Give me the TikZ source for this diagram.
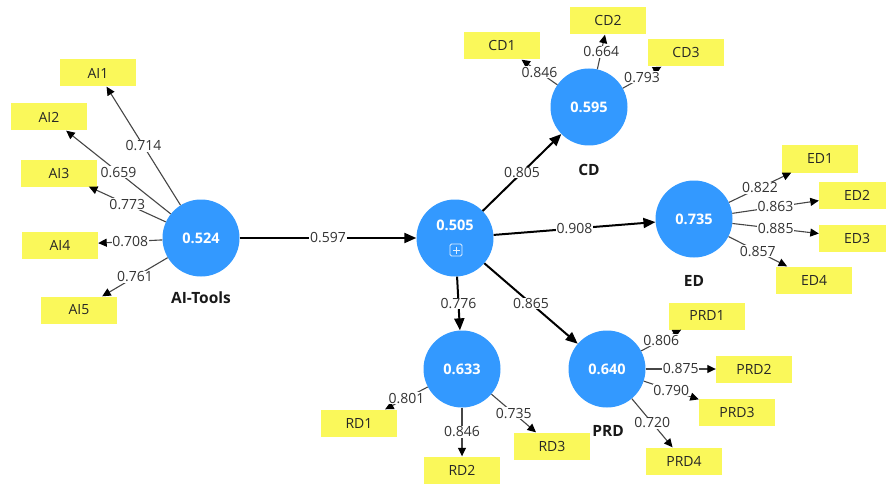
\documentclass[tikz,border=0pt]{standalone}
\usepackage{fontspec}
\setmainfont{Open Sans}
\usetikzlibrary{arrows.meta}
\definecolor{plsblue}{RGB}{51,153,255}
\definecolor{indyellow}{RGB}{250,248,90}
\definecolor{linegray}{RGB}{70,70,70}
\tikzset{
  latent/.style={circle, fill=plsblue, minimum size=77pt, inner sep=0pt,
    text=white, font=\fontsize{14.5}{16}\selectfont\bfseries},
  indicator/.style={rectangle, fill=indyellow, minimum width=76pt,
    minimum height=27pt, inner sep=0pt, font=\fontsize{14}{16}\selectfont, text=black!85},
  lvname/.style={font=\fontsize{15.5}{17}\selectfont\bfseries, text=black!90},
  lbl/.style={fill=white, inner sep=0.8pt, font=\fontsize{14}{16}\selectfont, text=black!80},
  loading/.style={draw=linegray, line width=1.1pt,
    -{Triangle[length=8.5pt,width=8pt,color=black]}},
  path coef/.style={draw=black, line width=2pt,
    -{Triangle[length=12pt,width=10pt]}},
}
\begin{document}
\begin{tikzpicture}[x=1pt, y=-1pt]
\useasboundingbox (0,0) rectangle (886,484);

% latent variables
\node[latent] (ai)  at (201,238) {0.524};
\node[latent] (mid) at (455,238) {};
\node[latent] (cd)  at (589,107) {0.595};
\node[latent] (ed)  at (694,219) {0.735};
\node[latent] (rd)  at (462,369) {0.633};
\node[latent] (prd) at (607,369) {0.640};
\node[latent, fill=none, minimum size=0pt] (midval) at (455,225) {0.505};
% collapse icon of the higher-order construct
\draw[white, opacity=0.85, line width=0.9pt, rounded corners=1.5pt]
  (450,244) rectangle (462,256);
\draw[white, opacity=0.85, line width=0.9pt] (456,246.5) -- (456,253.5)
  (452.5,250) -- (459.5,250);

% construct names
\node[lvname] (ainame)  at (201,298) {AI-Tools};
\node[lvname] (cdname)  at (589,170) {CD};
\node[lvname] (edname)  at (694,281) {ED};
\node[lvname] (prdname) at (608,431) {PRD};

% indicators
\node[indicator] (ai1) at (98,73)  {AI1};
\node[indicator] (ai2) at (49,117) {AI2};
\node[indicator] (ai3) at (59,173) {AI3};
\node[indicator] (ai4) at (60,245) {AI4};
\node[indicator] (ai5) at (79,310) {AI5};

\node[indicator] (cd1) at (502,46) {CD1};
\node[indicator] (cd2) at (608,21) {CD2};
\node[indicator] (cd3) at (686,53) {CD3};

\node[indicator] (ed1) at (820,159) {ED1};
\node[indicator] (ed2) at (857,195) {ED2};
\node[indicator] (ed3) at (857,238) {ED3};
\node[indicator] (ed4) at (814,280) {ED4};

\node[indicator] (rd1) at (359,423) {RD1};
\node[indicator] (rd2) at (462,470) {RD2};
\node[indicator] (rd3) at (552,446) {RD3};

\node[indicator] (prd1) at (707,316) {PRD1};
\node[indicator] (prd2) at (754,369) {PRD2};
\node[indicator] (prd3) at (737,412) {PRD3};
\node[indicator] (prd4) at (684,461) {PRD4};

% outer loadings
\draw[loading] (ai) -- node[lbl] {0.714} (ai1);
\draw[loading] (ai) -- node[lbl] {0.659} (ai2);
\draw[loading] (ai) -- node[lbl] {0.773} (ai3);
\draw[loading] (ai) -- node[lbl] {0.708} (ai4);
\draw[loading] (ai) -- node[lbl] {0.761} (ai5);

\draw[loading] (cd) -- node[lbl] {0.846} (cd1);
\draw[loading] (cd) -- node[lbl] {0.664} (cd2);
\draw[loading] (cd) -- node[lbl] {0.793} (cd3);

\draw[loading] (ed) -- node[lbl] {0.822} (ed1);
\draw[loading] (ed) -- node[lbl] {0.863} (ed2);
\draw[loading] (ed) -- node[lbl] {0.885} (ed3);
\draw[loading] (ed) -- node[lbl] {0.857} (ed4);

\draw[loading] (rd) -- node[lbl] {0.801} (rd1);
\draw[loading] (rd) -- node[lbl] {0.846} (rd2);
\draw[loading] (rd) -- node[lbl] {0.735} (rd3);

\draw[loading] (prd) -- node[lbl] {0.806} (prd1);
\draw[loading] (prd) -- node[lbl] {0.875} (prd2);
\draw[loading] (prd) -- node[lbl] {0.790} (prd3);
\draw[loading] (prd) -- node[lbl] {0.720} (prd4);

% path coefficients
\draw[path coef] (ai)  -- node[lbl] {0.597} (mid);
\draw[path coef] (mid) -- node[lbl] {0.805} (cd);
\draw[path coef] (mid) -- node[lbl] {0.908} (ed);
\draw[path coef] (mid) -- node[lbl] {0.776} (rd);
\draw[path coef] (mid) -- node[lbl] {0.865} (prd);
\end{tikzpicture}
\end{document}
